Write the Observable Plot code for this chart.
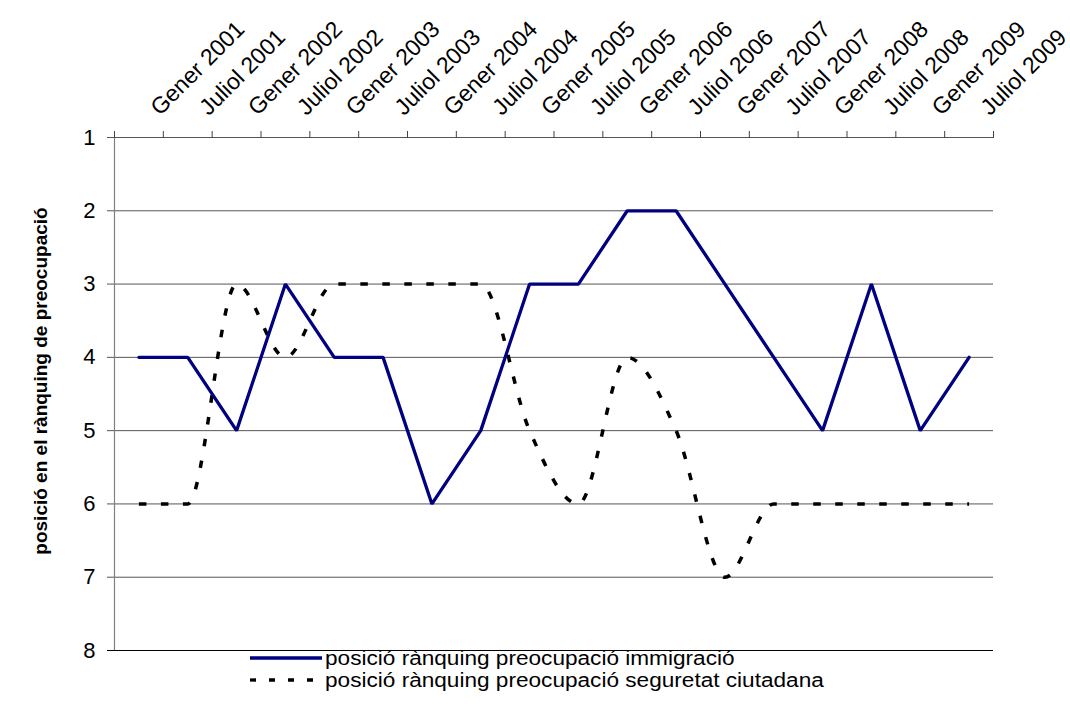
<!DOCTYPE html>
<html><head><meta charset="utf-8">
<script src="https://cdn.jsdelivr.net/npm/d3@7"></script>
<script src="https://cdn.jsdelivr.net/npm/@observablehq/plot@0.6"></script>
<style>
body{margin:0;background:#fff;font-family:"Liberation Sans",Arial,sans-serif;}
#legend{position:relative;height:66px;width:1070px;}
.item{position:absolute;left:250px;height:22px;display:flex;align-items:center;}
.item svg{display:block;}
.item span{font-size:20px;display:inline-block;transform:scaleX(1.13);transform-origin:left center;white-space:nowrap;color:#000;margin-left:3px;}
</style></head><body>
<div id="chart"></div>
<div id="legend"></div>
<script>
const categories = ["Gener 2001","Juliol 2001","Gener 2002","Juliol 2002","Gener 2003","Juliol 2003","Gener 2004","Juliol 2004","Gener 2005","Juliol 2005","Gener 2006","Juliol 2006","Gener 2007","Juliol 2007","Gener 2008","Juliol 2008","Gener 2009","Juliol 2009"];
const immigracio = [4,4,5,3,4,4,6,5,3,3,2,2,3,4,5,3,5,4];
const seguretat = [6,6,3,4,3,3,3,3,5,6,4,5,7,6,6,6,6,6];
const yTicks = [1,2,3,4,5,6,7,8];
const seriesNames = ["posició rànquing preocupació immigració","posició rànquing preocupació seguretat ciutadana"];
const yTitle = "posició en el rànquing de preocupació";

const FONT = '"Liberation Sans", Arial, sans-serif';
const immData = categories.map((c, i) => ({i, c, v: immigracio[i]}));
const segData = categories.map((c, i) => ({i, c, v: seguretat[i]}));
const boundaries = d3.range(categories.length + 1).map(i => i - 0.5);
const dash = "7.5,14.5";

const chart = Plot.plot({
  width: 1070, height: 652,
  marginTop: 137, marginBottom: 2, marginLeft: 114, marginRight: 77,
  style: {fontFamily: FONT, fontSize: "20px", background: "white", color: "black", overflow: "visible"},
  x: {type: "linear", domain: [-0.5, categories.length - 0.5], axis: null},
  y: {domain: [1, 8], reverse: true, axis: null},
  marks: [
    Plot.ruleY(yTicks.filter(d => d > 1 && d < 8), {stroke: "#555", strokeWidth: 1, insetLeft: -7}),
    Plot.ruleY([yTicks[0]], {stroke: "#555", strokeWidth: 1, insetLeft: -7}),
    Plot.ruleY([yTicks[yTicks.length - 1]], {stroke: "#000", strokeWidth: 1.2, insetLeft: -7}),
    Plot.ruleX([-0.5], {stroke: "#808080", strokeWidth: 1.2}),
    Plot.axisX({anchor: "top", ticks: boundaries, tickFormat: () => "", tickSize: 7, stroke: "#444", label: null}),
    Plot.axisY({anchor: "left", ticks: yTicks, tickSize: 0, tickPadding: 19, fontSize: 22, label: null, tickFormat: d => String(d)}),
    Plot.text(categories, {x: (d, i) => i, frameAnchor: "top", rotate: -45, textAnchor: "start", lineAnchor: "bottom", dx: 21, dy: -21, fontSize: 23, ariaLabel: "xlabels"}),
    Plot.text([yTitle], {frameAnchor: "left", rotate: -90, dx: -74, dy: -13, fontWeight: "bold", fontSize: 19, textAnchor: "middle", ariaLabel: "ytitle"}),
    Plot.line(segData, {x: "i", y: "v", stroke: "black", strokeWidth: 3.5, strokeDasharray: dash, strokeLinecap: "butt", curve: "monotone-x"}),
    Plot.line(immData, {x: "i", y: "v", stroke: "#000080", strokeWidth: 3.3, strokeLinejoin: "miter"})
  ]
});
document.getElementById("chart").appendChild(chart);

const legend = document.getElementById("legend");
const styles = [{stroke: "#000080", dash: null, top: -5}, {stroke: "#000", dash: "6,13", top: 17}];
seriesNames.forEach((name, k) => {
  const st = styles[k];
  const item = document.createElement("div");
  item.className = "item";
  item.style.top = st.top + "px";
  const ns = "http://www.w3.org/2000/svg";
  const svg = document.createElementNS(ns, "svg");
  svg.setAttribute("width", 72); svg.setAttribute("height", 22);
  const ln = document.createElementNS(ns, "line");
  ln.setAttribute("x1", 0); ln.setAttribute("x2", 72); ln.setAttribute("y1", 11); ln.setAttribute("y2", 11);
  ln.setAttribute("stroke", st.stroke); ln.setAttribute("stroke-width", 3.3);
  if (st.dash) ln.setAttribute("stroke-dasharray", st.dash);
  svg.appendChild(ln);
  const sp = document.createElement("span");
  sp.textContent = name;
  item.appendChild(svg); item.appendChild(sp);
  legend.appendChild(item);
});
</script>
</body></html>
